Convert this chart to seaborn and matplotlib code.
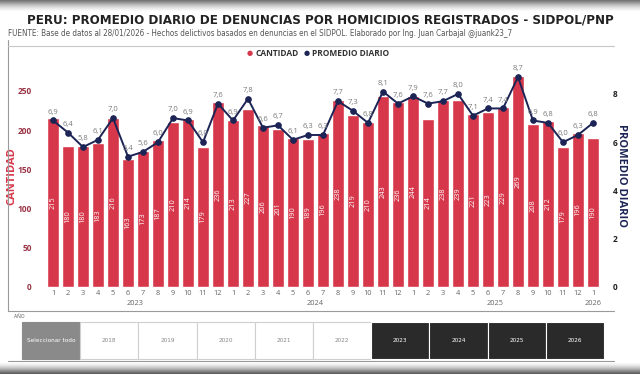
import numpy as np
import pandas as pd
import matplotlib
matplotlib.use("Agg")
import matplotlib.pyplot as plt
import seaborn as sns
from matplotlib.patches import Rectangle
from matplotlib.lines import Line2D

# data (2023-01 .. 2026-01)
meses = [1, 2, 3, 4, 5, 6, 7, 8, 9, 10, 11, 12] * 3 + [1]
anios = ["2023", "2024", "2025", "2026"]
cantidad = [215, 180, 180, 183, 216, 163, 173, 187, 210, 214, 179, 236,
            213, 227, 206, 201, 190, 189, 196, 238, 219, 210, 243, 236,
            244, 214, 238, 239, 221, 223, 229, 269, 208, 212, 179, 196,
            190]
promedio = [6.9, 6.4, 5.8, 6.1, 7.0, 5.4, 5.6, 6.0, 7.0, 6.9, 6.0, 7.6,
            6.9, 7.8, 6.6, 6.7, 6.1, 6.3, 6.3, 7.7, 7.3, 6.8, 8.1, 7.6,
            7.9, 7.6, 7.7, 8.0, 7.1, 7.4, 7.4, 8.7, 6.9, 6.8, 6.0, 6.3,
            6.8]
slicer = ["Seleccionar todo", "2018", "2019", "2020", "2021", "2022",
          "2023", "2024", "2025", "2026"]
slicer_sel = [False, False, False, False, False, False, True, True, True, True]

RED = "#D7374A"
NAVY = "#1C2455"
W, H = 640, 374
COND = dict(family="DejaVu Sans", fontstretch="condensed")

def fx(px):
    return px / W

def fy(py):
    return 1 - py / H

sns.set_style("white")
plt.rcParams['font.family'] = ['Open Sans', 'DejaVu Sans']

df = pd.DataFrame({"pos": np.arange(len(cantidad)), "cantidad": cantidad,
                   "promedio": promedio})

fig = plt.figure(figsize=(6.4, 3.74), dpi=100)
fig.patch.set_facecolor("white")

# shadows top / bottom
grad = np.linspace(0, 1, 50).reshape(-1, 1)
sh = fig.add_axes([0, fy(11), 1, 11 / H])
sh.imshow(grad, aspect="auto", cmap="Greys_r", vmin=-0.6, vmax=1.05, extent=[0, 1, 0, 1])
sh.axis("off")
sh2 = fig.add_axes([0, 0, 1, 11 / H])
sh2.imshow(grad[::-1], aspect="auto", cmap="Greys_r", vmin=-0.4, vmax=1.05, extent=[0, 1, 0, 1])
sh2.axis("off")

# card frame lines
fig.add_artist(Line2D([fx(8), fx(8)], [fy(40), fy(311)], color="#9a9a9a", lw=0.8))
fig.add_artist(Line2D([fx(8), fx(614)], [fy(46), fy(46)], color="#c8c8c8", lw=0.8))
fig.add_artist(Line2D([fx(8), fx(614)], [fy(311), fy(311)], color="#9a9a9a", lw=0.8))
fig.add_artist(Line2D([fx(8), fx(614)], [fy(361), fy(361)], color="#9a9a9a", lw=0.8))

fig.text(fx(320), fy(20), "PERU: PROMEDIO DIARIO DE DENUNCIAS POR HOMICIDIOS REGISTRADOS - SIDPOL/PNP",
         ha="center", va="center", fontsize=9.5, color="#222222", fontweight="bold", **COND)
fig.text(fx(8), fy(34), "FUENTE: Base de datos al 28/01/2026 - Hechos delictivos basados en denuncias en el SIDPOL. "
         "Elaborado por Ing. Juan Carbajal @juank23_7",
         ha="left", va="center", fontsize=5.8, color="#555555", **COND)

# legend
fig.text(fx(250), fy(53), "●", color=RED, fontsize=5, ha="center", va="center")
fig.text(fx(255), fy(53), "CANTIDAD", color="#333333", fontsize=6, ha="left", va="center", fontweight="bold")
fig.text(fx(307), fy(53), "●", color=NAVY, fontsize=5, ha="center", va="center")
fig.text(fx(312), fy(53), "PROMEDIO DIARIO", color="#333333", fontsize=6, ha="left", va="center", fontweight="bold")

ax = fig.add_axes([fx(45.5), fy(287), fx(600.5) - fx(45.5), fy(65) - fy(287)])
sns.barplot(data=df, x="pos", y="cantidad", color=RED, saturation=1, width=0.8,
            errorbar=None, ax=ax)
ax.bar_label(ax.containers[0], label_type="center", rotation=90, color="white", fontsize=5.3)
ax.set_ylim(0, 283)
ax.set_xlim(-0.5, len(cantidad) - 0.5)
ax.set_yticks([0, 50, 100, 150, 200, 250])
ax.tick_params(axis="y", labelsize=6, colors="#9A3345", length=0, pad=10)
for t in ax.get_yticklabels():
    t.set_fontweight("bold")
ax.set_xticks(range(len(meses)))
ax.set_xticklabels([str(m) for m in meses])
ax.tick_params(axis="x", labelsize=5.3, colors="#666666", length=0, pad=2)
ax.set_xlabel("")
ax.set_ylabel("CANTIDAD", color=RED, fontsize=8, fontweight="bold", labelpad=0)
for s in ax.spines.values():
    s.set_visible(False)

# year labels under month ticks
starts = [0, 12, 24, 36]
ends = [11, 23, 35, 36]
for a, s0, e0 in zip(anios, starts, ends):
    ax.text((s0 + e0) / 2, -0.075, a, transform=ax.get_xaxis_transform(),
            ha="center", va="center", fontsize=5.3, color="#666666")

ax2 = ax.twinx()
sns.lineplot(data=df, x="pos", y="promedio", color=NAVY, marker="o", markersize=4,
             markeredgecolor=NAVY, linewidth=1.4, ax=ax2)
for i, v in enumerate(promedio):
    ax2.annotate(f"{v:.1f}".replace(".", ","), (i, v), xytext=(0, 3.5),
                 textcoords="offset points", ha="center", va="bottom",
                 fontsize=5.5, color="#7a7a7a")
ax2.set_ylim(0, 9.2)
ax2.set_yticks([0, 2, 4, 6, 8])
ax2.tick_params(axis="y", labelsize=6, colors="#222222", length=0, pad=9)
for t in ax2.get_yticklabels():
    t.set_fontweight("bold")
ax2.set_ylabel("PROMEDIO DIARIO", color=NAVY, fontsize=8, fontweight="bold",
               rotation=270, labelpad=7)
for s in ax2.spines.values():
    s.set_visible(False)

# year slicer
fig.text(fx(14), fy(316), "AÑO", fontsize=3.5, color="#555555", ha="left", va="center")
bx0, bw, by0, bh = 22, 58.2, 322, 37
for k, (lab, sel) in enumerate(zip(slicer, slicer_sel)):
    x0 = bx0 + k * bw
    if k == 0:
        fc, tc, ec = "#8a8a8a", "white", "#8a8a8a"
    elif sel:
        fc, tc, ec = "#2a2a2a", "white", "#ffffff"
    else:
        fc, tc, ec = "white", "#888888", "#cfcfcf"
    fig.add_artist(Rectangle((fx(x0), fy(by0 + bh)), bw / W, bh / H, transform=fig.transFigure,
                             facecolor=fc, edgecolor=ec, lw=0.8))
    fig.text(fx(x0 + bw / 2), fy(by0 + bh / 2), lab, color=tc, fontsize=4.6, ha="center", va="center",
             **COND)

fig.savefig("out.png", dpi=100)
